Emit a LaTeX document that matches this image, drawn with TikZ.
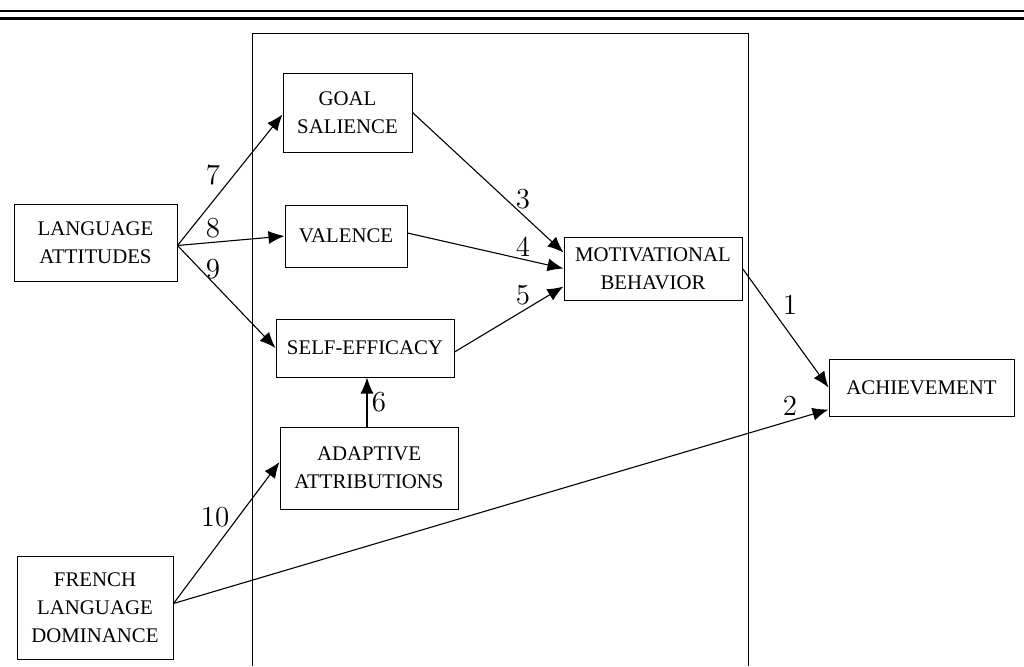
\documentclass[tikz,border=0pt]{standalone}
\usepackage{fontspec}
\usetikzlibrary{arrows.meta}
\newfontfamily\boxfont{Liberation Serif}
\tikzset{
  box/.style={draw, line width=0.5pt, align=center, inner sep=0pt,
    font=\boxfont\fontsize{10.4}{14}\selectfont},
  arr/.style={line width=0.55pt, -{Latex[length=8pt,width=6.5pt]}},
  num/.style={font=\fontsize{14.5}{16}\selectfont, inner sep=0pt}
}
\begin{document}
\begin{tikzpicture}[x=0.5pt, y=-0.5pt]
      \useasboundingbox (0,0) rectangle (1024,666);
      \draw[line width=1.1pt] (0,11) -- (1024,11) (0,18.5) -- (1024,18.5);
      \draw[line width=0.45pt] (252,666) -- (252,33) -- (748,33) -- (748,666);
      \draw
        (95.5,242.5) node[box, minimum width=81.5pt, minimum height=38.5pt] (la){LANGUAGE\\ATTITUDES}
        (95,607.5) node[box, minimum width=78pt, minimum height=51.5pt] (fld){FRENCH\\LANGUAGE\\DOMINANCE}
        (347.5,112.5) node[box, minimum width=64.5pt, minimum height=39.5pt] (gs){GOAL\\SALIENCE}
        (346,236) node[box, minimum width=61pt, minimum height=31pt] (va){VALENCE}
        (365,348) node[box, minimum width=89pt, minimum height=29pt] (se){SELF-EFFICACY}
        (369,468) node[box, minimum width=89pt, minimum height=41pt] (aa){ADAPTIVE\\ATTRIBUTIONS}
        (653,268.5) node[box, minimum width=89pt, minimum height=31.5pt] (mb){MOTIVATIONAL\\BEHAVIOR}
        (921.5,387.5) node[box, minimum width=92.5pt, minimum height=28.5pt] (ach){ACHIEVEMENT};
      \begin{scope}[arr]
        \draw ([yshift=-1.5pt]la.east) to ([yshift=-1pt]gs.west);
        \draw ([yshift=-1.5pt]la.east) to (va.west);
        \draw ([yshift=-1.5pt]la.east) to (se.west);
        \draw (gs.east) to ([yshift=8pt]mb.west);
        \draw ([yshift=1.5pt]va.east) to (mb.west);
        \draw ([yshift=-2pt]se.east) to ([yshift=-9pt]mb.west);
        \draw (mb.east) to (ach.west);
        \draw ([yshift=2pt]fld.east) to ([yshift=-11pt]ach.west);
        \draw ([yshift=2pt]fld.east) to ([yshift=3pt]aa.west);
        \draw ([xshift=-1pt]aa.north) to ([xshift=-1pt]aa.north |- se.south);
      \end{scope}
      \draw
        (213,175) node[num] (l7){7}
        (213,228) node[num] (l8){8}
        (213,269) node[num] (l9){9}
        (523,199) node[num] (l3){3}
        (523,247) node[num] (l4){4}
        (523,295) node[num] (l5){5}
        (379,402) node[num] (l6){6}
        (790,305) node[num] (l1){1}
        (790,406) node[num] (l2){2}
        (215,517) node[num] (l10){10};
    \end{tikzpicture}
\end{document}
